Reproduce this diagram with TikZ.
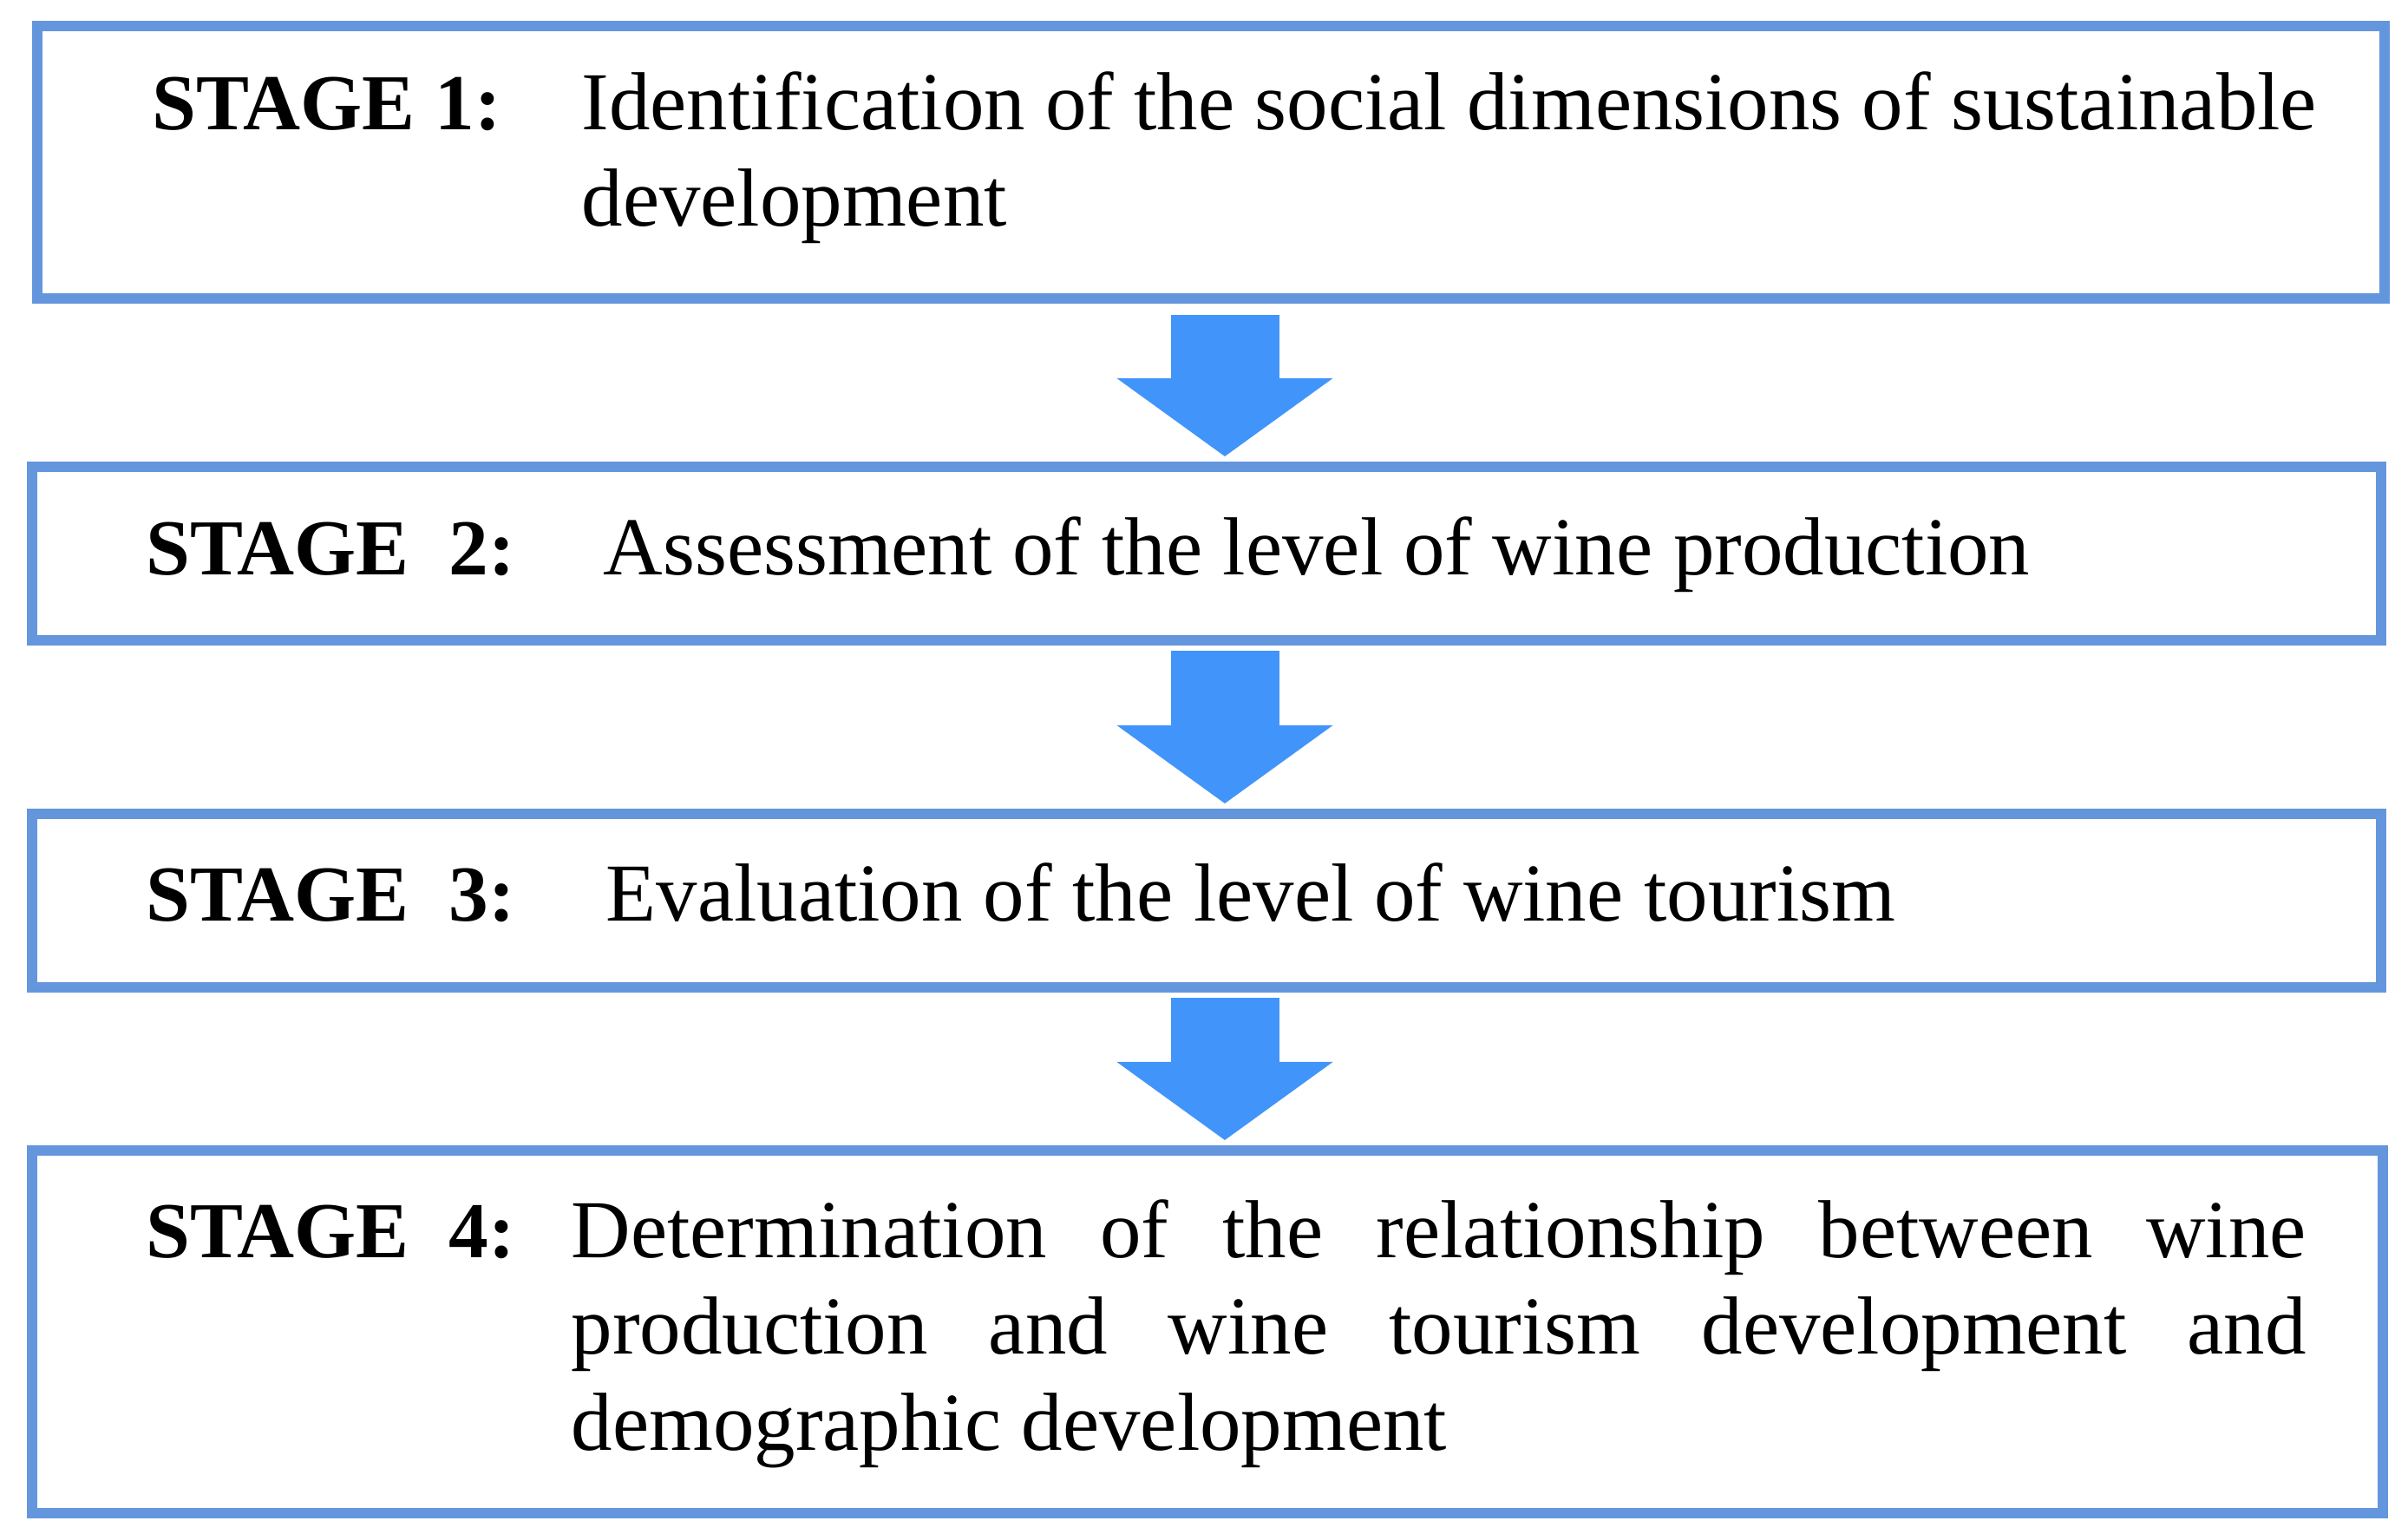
\documentclass[tikz,border=0pt]{standalone}
\usepackage{fontspec}
\setmainfont{Liberation Serif}
\usetikzlibrary{arrows.meta}

\definecolor{bordo}{RGB}{100,150,222}
\definecolor{blufreccia}{RGB}{65,148,250}

\begin{document}
\begin{tikzpicture}[>=stealth,
    fase/.style={draw=bordo, line width=0.12cm, fill=white, inner sep=0pt},
    etichetta/.style={anchor=base west, inner sep=0pt,
        font=\fontsize{26pt}{30pt}\selectfont\bfseries},
    testo/.style={anchor=base west, inner sep=0pt, text width=\larghezza cm, align=justify,
        font=\fontsize{27pt}{31.5pt}\selectfont,
        execute at begin node={\tolerance=10000 \hyphenpenalty=10000}},
    freccia/.style={blufreccia, line width=1.25cm,
        -{Triangle[width=2.49cm, length=0.9cm, line width=0pt]}}]
    % --- Impostazioni ---
    \def\larghezza{20.0} % Larghezza del testo nei riquadri
    \def\lato{27.08}     % Larghezza dei riquadri

    % --- Area del disegno ---
    \useasboundingbox (0,0) rectangle (27.76,-17.68);

    % --- Riquadri delle fasi ---
    \node[fase, minimum width=27.06cm, minimum height=3.14cm] (box1) at (13.96,-1.87) {};
    \node[fase, minimum width=\lato cm, minimum height=2.00cm] (box2) at (13.91,-6.38) {};
    \node[fase, minimum width=\lato cm, minimum height=2.00cm] (box3) at (13.91,-10.38) {};
    \node[fase, minimum width=27.10cm, minimum height=4.18cm] (box4) at (13.92,-15.35) {};

    % --- Testi ---
    % Fase 1
    \node[etichetta] (lab1) at (1.75,-1.50) {STAGE 1:};
    \node[testo] (txt1) at (6.70,-1.50) {Identification of the social dimensions of sustainable\linebreak development};
    % Fase 2
    \node[etichetta] (lab2) at (1.68,-6.63) {STAGE~~2:};
    \node[testo] (txt2) at (6.95,-6.63) {Assessment of the level of wine production};
    % Fase 3
    \node[etichetta] (lab3) at (1.68,-10.62) {STAGE~~3:};
    \node[testo] (txt3) at (6.98,-10.62) {Evaluation of the level of wine tourism};
    % Fase 4
    \node[etichetta] (lab4) at (1.68,-14.50) {STAGE~~4:};
    \node[testo] (txt4) at (6.58,-14.50) {Determination of the relationship between wine\linebreak production and wine tourism development and\linebreak demographic development};

    % --- Frecce ---
    % Asse verticale comune delle frecce
    \coordinate (asse) at (14.12,0);
    \draw[freccia, shorten <=0.13cm, shorten >=0.06cm] (box1.south -| asse) -- (box2.north -| asse);
    \draw[freccia, shorten <=0.06cm, shorten >=0.06cm] (box2.south -| asse) -- (box3.north -| asse);
    \draw[freccia, shorten <=0.06cm, shorten >=0.06cm] (box3.south -| asse) -- (box4.north -| asse);
\end{tikzpicture}
\end{document}
